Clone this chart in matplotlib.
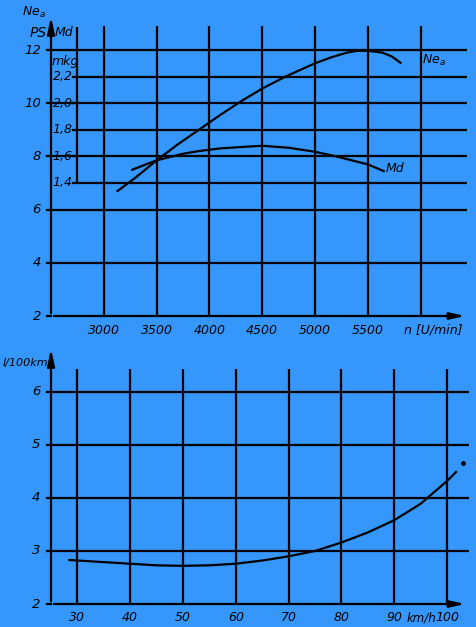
import numpy as np
import matplotlib
matplotlib.use("Agg")
import matplotlib.pyplot as plt

## data
rpm = [3130, 3300, 3500, 3700, 3900, 4100, 4290, 4500, 4720, 5000, 5150, 5300,
       5400, 5500, 5640, 5730, 5810]
ne_a = [6.7, 7.2, 7.85, 8.45, 9.0, 9.55, 10.05, 10.55, 11.0, 11.5, 11.72, 11.9,
        11.97, 11.97, 11.9, 11.75, 11.52]                                     # PS

rpm_md = [3270, 3400, 3500, 3750, 3900, 4100, 4290, 4500, 4750, 5000, 5200,
          5350, 5500, 5650]
md = [1.50, 1.54, 1.57, 1.62, 1.64, 1.66, 1.67, 1.68, 1.665, 1.635, 1.60,
      1.57, 1.54, 1.49]                                                       # mkg

speed = [28.5, 35, 40, 45, 50, 55, 60, 65, 70, 75, 80, 85, 90, 95, 100, 101.7]
fuel = [2.83, 2.79, 2.76, 2.73, 2.72, 2.73, 2.76, 2.82, 2.90, 3.0, 3.16, 3.35,
        3.58, 3.89, 4.32, 4.49]                                               # l/100km

rpm_ticks = [3000, 3500, 4000, 4500, 5000, 5500]
rpm_grid = [3000, 3500, 4000, 4500, 5000, 5500, 6000]
ne_ticks = [2, 4, 6, 8, 10, 12]
md_ticks = [1.4, 1.6, 1.8, 2.0, 2.2]
md_labels = ["1,4", "1,6", "1,8", "2,0", "2,2"]
speed_ticks = [30, 40, 50, 60, 70, 80, 90, 100]
fuel_ticks = [2, 3, 4, 5, 6]

bg = "#3597fc"
W, H = 476, 627
lw = 1.6
fnt = dict(fontstyle="italic", family="DejaVu Sans", color="k")

fig = plt.figure(figsize=(W/100, H/100), dpi=100, facecolor=bg)

def box(l, t, r, b):
    return [l/W, 1-b/H, (r-l)/W, (b-t)/H]

## top chart: Ne and Md over rpm
ax = fig.add_axes(box(51, 8, 476, 316))
ax.set_xlim(2500, 2500+(476-51)/0.1056)
ax.set_ylim(2, 2+(316-8)/26.6)
ax.set_facecolor(bg)
for s in ax.spines.values():
    s.set_visible(False)
ax.set_xticks([]); ax.set_yticks([])

x_end = 2500+(467-51)/0.1056
md_x = 2500+(77-51)/0.1056
ax.hlines(ne_ticks[1:], 2500, x_end, color="k", lw=lw)
ax.hlines([v*5 for v in md_ticks if round(v*5) % 2], md_x, x_end, color="k", lw=lw)
ax.vlines(rpm_grid, 2, 12.9, color="k", lw=lw)
ax.vlines(md_x, 7, 12.85, color="k", lw=lw)

# axes with arrows
ax.annotate("", xy=(2500+(468-51)/0.1056, 2), xytext=(2500, 2),
            arrowprops=dict(arrowstyle="-|>,head_length=0.9,head_width=0.2", color="k", lw=lw))
ax.annotate("", xy=(2500, 2+(316-14)/26.6), xytext=(2500, 2),
            arrowprops=dict(arrowstyle="-|>,head_length=1.0,head_width=0.22", color="k", lw=lw))

ax.plot(rpm, ne_a, color="k", lw=lw, solid_joinstyle="round")
ax.plot(rpm_md, [v*5 for v in md], color="k", lw=lw, solid_joinstyle="round")

for v in ne_ticks:
    ax.plot([2500-40, 2500], [v, v], color="k", lw=lw, clip_on=False)
    ax.text(2500-95, v, str(v), ha="right", va="center", fontsize=9.5, **fnt)
for v, t in zip(md_ticks, md_labels):
    ax.plot([md_x-40, md_x], [v*5, v*5], color="k", lw=lw)
    ax.text(md_x-40, v*5, t, ha="right", va="center", fontsize=9, **fnt)
for v in rpm_ticks:
    ax.text(v, 2-0.3, str(v), ha="center", va="top", fontsize=9, **fnt)
ax.text(2500+(404-51)/0.1056, 2-0.3, "n [U/min]", ha="left", va="top", fontsize=9, **fnt)
ax.text(2500+(422-51)/0.1056, 11.6, r"$Ne_a$", ha="left", va="center", fontsize=9, **fnt)
ax.text(2500+(386-51)/0.1056, 7.55, "Md", ha="left", va="center", fontsize=9, **fnt)
ax.text(2500-40, 2+(316-33)/26.6, "PS", ha="right", va="center", fontsize=10, **fnt)
ax.text(2500-50, 2+(316-12)/26.6, r"$Ne_a$", ha="right", va="center", fontsize=9, **fnt)
ax.text(2500+(55-51)/0.1056, 2+(316-33)/26.6, "Md", ha="left", va="center", fontsize=9, **fnt)
ax.text(2500+(52-51)/0.1056, 2+(316-62)/26.6, "mkg", ha="left", va="center", fontsize=9, **fnt)

## bottom chart: fuel consumption over speed
bx = fig.add_axes(box(51, 340, 476, 604))
bx.set_xlim(25, 25+(476-51)/5.28)
bx.set_ylim(2, 2+(604-340)/53)
bx.set_facecolor(bg)
for s in bx.spines.values():
    s.set_visible(False)
bx.set_xticks([]); bx.set_yticks([])

sx_end = 25+(469-51)/5.28
bx.hlines(fuel_ticks[1:], 25, sx_end, color="k", lw=lw)
bx.vlines(speed_ticks, 2, 6.43, color="k", lw=lw)
bx.annotate("", xy=(25+(468-51)/5.28, 2), xytext=(25, 2),
            arrowprops=dict(arrowstyle="-|>,head_length=0.9,head_width=0.2", color="k", lw=lw))
bx.annotate("", xy=(25, 2+(604-346)/53), xytext=(25, 2),
            arrowprops=dict(arrowstyle="-|>,head_length=1.0,head_width=0.22", color="k", lw=lw))

bx.plot(speed, fuel, color="k", lw=lw, solid_joinstyle="round")
bx.plot([103], [4.66], "o", color="k", ms=2.5)

for v in fuel_ticks:
    bx.plot([25-0.8, 25], [v, v], color="k", lw=lw, clip_on=False)
    bx.text(25-2.0, v, str(v), ha="right", va="center", fontsize=9.5, **fnt)
for v in speed_ticks:
    bx.text(v, 2-0.14, str(v), ha="center", va="top", fontsize=9, **fnt)
bx.text(25+(407-51)/5.28, 2-0.14, "km/h", ha="left", va="top", fontsize=8.5, **fnt)
bx.text(25+(48-51)/5.28, 2+(604-363)/53, "l/100km", ha="right", va="center", fontsize=8, **fnt)

fig.savefig("out.png", dpi=100, facecolor=bg)
